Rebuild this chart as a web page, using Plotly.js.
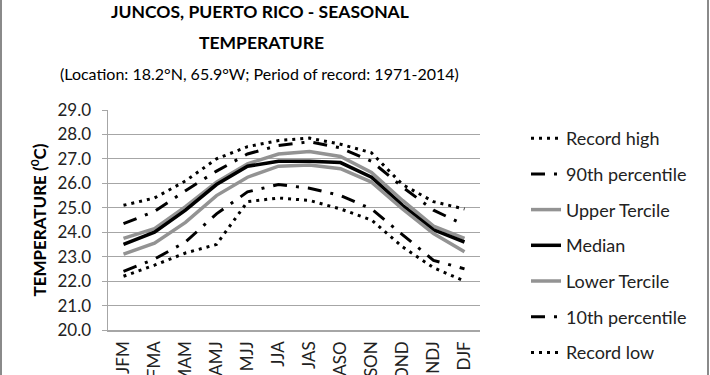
<!DOCTYPE html>
<html>
<head>
<meta charset="utf-8">
<script src="https://cdn.plot.ly/plotly-3.0.1.min.js"></script>
<style>html,body{margin:0;padding:0;background:#fff;}#chart{width:710px;height:375px;}</style>
</head>
<body>
<div id="chart"></div>
<script>
const categories = ['JFM','FMA','MAM','AMJ','MJJ','JJA','JAS','ASO','SON','OND','NDJ','DJF'];
const recordHigh   = [25.1,25.4,26.1,27.0,27.5,27.75,27.85,27.6,27.25,25.95,25.25,24.95];
const pct90        = [24.35,24.85,25.7,26.5,27.2,27.55,27.7,27.45,26.9,25.85,24.9,24.3];
const upperTercile = [23.75,24.15,25.05,26.05,26.8,27.2,27.3,27.1,26.45,25.3,24.25,23.75];
const median       = [23.5,24.0,24.9,25.95,26.7,26.9,26.9,26.85,26.25,25.1,24.1,23.6];
const lowerTercile = [23.1,23.55,24.4,25.5,26.25,26.7,26.75,26.6,26.05,24.95,23.95,23.2];
const pct10        = [22.4,22.9,23.6,24.75,25.65,25.95,25.8,25.5,24.95,23.9,22.85,22.5];
const recordLow    = [22.2,22.65,23.15,23.5,25.25,25.4,25.3,24.95,24.5,23.4,22.55,22.0];
const yTickVals = [20,21,22,23,24,25,26,27,28,29];

const FONT = 'Lato, "Open Sans", sans-serif';
const GRAY = '#939393';
const DOT = '3px,5px';
const DASHDOT = '14px,9px,3px,9px';

function tr(name, y, color, width, dash, g) {
  return {type:'scatter', mode:'lines', x:categories, y:y, name:name,
    legendgroup:g, line:{color:color, width:width, dash:dash}, hoverinfo:'skip'};
}
const data = [
  tr('Record high', recordHigh, '#000', 3, DOT, 'a'),
  tr('90th percentile', pct90, '#000', 3, DASHDOT, 'b'),
  tr('Upper Tercile', upperTercile, GRAY, 3.5, 'solid', 'c'),
  tr('Median', median, '#000', 3.5, 'solid', 'd'),
  tr('Lower Tercile', lowerTercile, GRAY, 3.5, 'solid', 'e'),
  tr('10th percentile', pct10, '#000', 3, DASHDOT, 'f'),
  tr('Record low', recordLow, '#000', 3, DOT, 'g')
];

const L = 108, R = 480, T = 110, B = 330;
const px2x = p => (p - L) / (R - L);
const py2y = p => (B - p) / (B - T);

const layout = {
  width:710, height:375,
  margin:{l:L, r:710-R, t:T, b:375-B, pad:0, autoexpand:false},
  paper_bgcolor:'#fff', plot_bgcolor:'#fff',
  font:{family:FONT, color:'#222', size:16},
  showlegend:true,
  legend:{x:px2x(526), xanchor:'left', y:py2y(120), yanchor:'top', maxheight:400,
    borderwidth:0, font:{family:FONT, size:18, color:'#222'}, traceorder:'grouped', tracegroupgap:9.3,
    bgcolor:'rgba(0,0,0,0)'},
  xaxis:{type:'category', range:[-0.5,11.5], showgrid:false, zeroline:false,
    showline:true, linecolor:'#a6a6a6', linewidth:1.5,
    ticks:'outside', ticklen:3, tickcolor:'rgba(0,0,0,0)', tickangle:-90,
    tickfont:{family:FONT, size:17, color:'#222'}},
  yaxis:{range:[20,29], tickvals:yTickVals, tickformat:'.1f', showgrid:true,
    gridcolor:'#a6a6a6', gridwidth:1, zeroline:false,
    showline:true, linecolor:'#a6a6a6', linewidth:1.5,
    ticks:'outside', ticklen:5, tickcolor:'#a6a6a6', ticklabelstandoff:7,
    tickfont:{family:FONT, size:17, color:'#222'},
    title:{text:'<b>TEMPERATURE (<sup>0</sup>C)</b>', standoff:6,
      font:{family:FONT, size:17, color:'#000'}}},
  annotations:[
    {xref:'paper', yref:'paper', x:px2x(260), y:py2y(11), xanchor:'center', yanchor:'middle',
     text:'<b>JUNCOS, PUERTO RICO - SEASONAL</b>', showarrow:false,
     font:{family:FONT, size:17.5, color:'#000'}},
    {xref:'paper', yref:'paper', x:px2x(261), y:py2y(42), xanchor:'center', yanchor:'middle',
     text:'<b>TEMPERATURE</b>', showarrow:false,
     font:{family:FONT, size:17.5, color:'#000'}},
    {xref:'paper', yref:'paper', x:px2x(259), y:py2y(73), xanchor:'center', yanchor:'middle',
     text:'(Location: 18.2°N, 65.9°W; Period of record: 1971-2014)', showarrow:false,
     font:{family:FONT, size:16, color:'#000'}}
  ],
  shapes:[
    {type:'line', xref:'paper', yref:'paper', x0:px2x(1), x1:px2x(1), y0:py2y(0), y1:py2y(375),
     line:{color:'#8a8a8a', width:2}},
    {type:'line', xref:'paper', yref:'paper', x0:px2x(708), x1:px2x(708), y0:py2y(0), y1:py2y(375),
     line:{color:'#8a8a8a', width:2}}
  ]
};

Plotly.newPlot('chart', data, layout, {staticPlot:true, displayModeBar:false});
</script>
</body>
</html>
